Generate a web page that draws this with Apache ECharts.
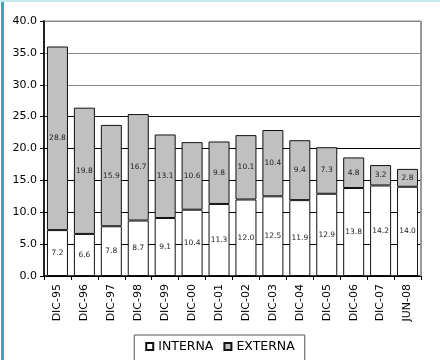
<!DOCTYPE html>
<html>
<head>
<meta charset="utf-8">
<script src="https://cdn.jsdelivr.net/npm/echarts@6/dist/echarts.min.js"></script>
<style>
  html, body { margin: 0; padding: 0; background: #fff; }
  #wrap { position: relative; width: 440px; height: 360px; overflow: hidden; }
  #chart { width: 440px; height: 360px; }
  #edgeLeft { position: absolute; left: 1px; top: 0; width: 3px; height: 360px; background: #3ea6b6; }
  #edgeTop { position: absolute; left: 0; top: 0; width: 440px; height: 2px; background: #c6eaee; }
</style>
</head>
<body>
<div id="wrap">
  <div id="chart"></div>
  <div id="edgeLeft"></div>
  <div id="edgeTop"></div>
</div>
<script>
// Periods shown on the horizontal axis
const categories = ['DIC-95','DIC-96','DIC-97','DIC-98','DIC-99','DIC-00','DIC-01','DIC-02','DIC-03','DIC-04','DIC-05','DIC-06','DIC-07','JUN-08'];
// Stacked components
const interna = [7.2, 6.6, 7.8, 8.7, 9.1, 10.4, 11.3, 12.0, 12.5, 11.9, 12.9, 13.8, 14.2, 14.0];
const externa = [28.8, 19.8, 15.9, 16.7, 13.1, 10.6, 9.8, 10.1, 10.4, 9.4, 7.3, 4.8, 3.2, 2.8];
// Value axis
const yTicks = [0, 5, 10, 15, 20, 25, 30, 35, 40];

const chart = echarts.init(document.getElementById('chart'), null, { renderer: 'canvas' });

const labelStyle = {
  show: true,
  position: 'inside',
  fontSize: 7.5,
  fontFamily: 'DejaVu Sans',
  color: '#222',
  formatter: p => p.value.toFixed(1)
};

chart.setOption({
  animation: false,
  backgroundColor: '#fff',
  grid: { left: 44, right: 19, top: 21, bottom: 84, containLabel: false },
  xAxis: {
    type: 'category',
    data: categories,
    axisLine: { lineStyle: { color: '#000', width: 1.5 } },
    axisTick: { show: true, length: 4, alignWithLabel: false, lineStyle: { color: '#000' } },
    axisLabel: { rotate: 90, fontSize: 11, fontFamily: 'DejaVu Sans', color: '#000', margin: 8 }
  },
  yAxis: {
    type: 'value',
    min: yTicks[0],
    max: yTicks[yTicks.length - 1],
    interval: 5,
    axisLine: { show: true, lineStyle: { color: '#222', width: 2 } },
    axisTick: { show: true, inside: false, length: 4, lineStyle: { color: '#000' } },
    axisLabel: { fontSize: 11, fontFamily: 'DejaVu Sans', color: '#000', margin: 7,
                 formatter: v => v.toFixed(1) },
    splitLine: { show: true, lineStyle: { width: 1,
      color: ['#000', '#000', '#000', '#000', '#000', '#111', '#8a8a8a', '#8a8a8a', '#8a8a8a'] } }
  },
  legend: {
    top: 335,
    left: 'center',
    icon: 'rect',
    itemWidth: 7,
    itemHeight: 7,
    itemGap: 10,
    padding: [5, 10, 12, 11],
    borderColor: '#555',
    borderWidth: 1,
    textStyle: { fontSize: 12.5, fontFamily: 'DejaVu Sans', color: '#000' },
    data: ['INTERNA', 'EXTERNA']
  },
  series: [
    {
      name: 'INTERNA',
      type: 'bar',
      stack: 'total',
      data: interna,
      barWidth: 21,
      itemStyle: { color: '#ffffff', borderColor: '#111', borderWidth: 1 },
      label: labelStyle
    },
    {
      name: 'EXTERNA',
      type: 'bar',
      stack: 'total',
      data: externa,
      barWidth: 21,
      itemStyle: { color: '#c0c0c0', borderColor: '#111', borderWidth: 1 },
      label: labelStyle
    }
  ],
  graphic: [
    { type: 'line', shape: { x1: 421, y1: 21, x2: 421, y2: 276 }, style: { stroke: '#999', lineWidth: 2 }, z: 10 },
    { type: 'line', shape: { x1: 44, y1: 21, x2: 421, y2: 21 }, style: { stroke: '#8a8a8a', lineWidth: 1 }, z: 10 }
  ]
});
</script>
</body>
</html>
